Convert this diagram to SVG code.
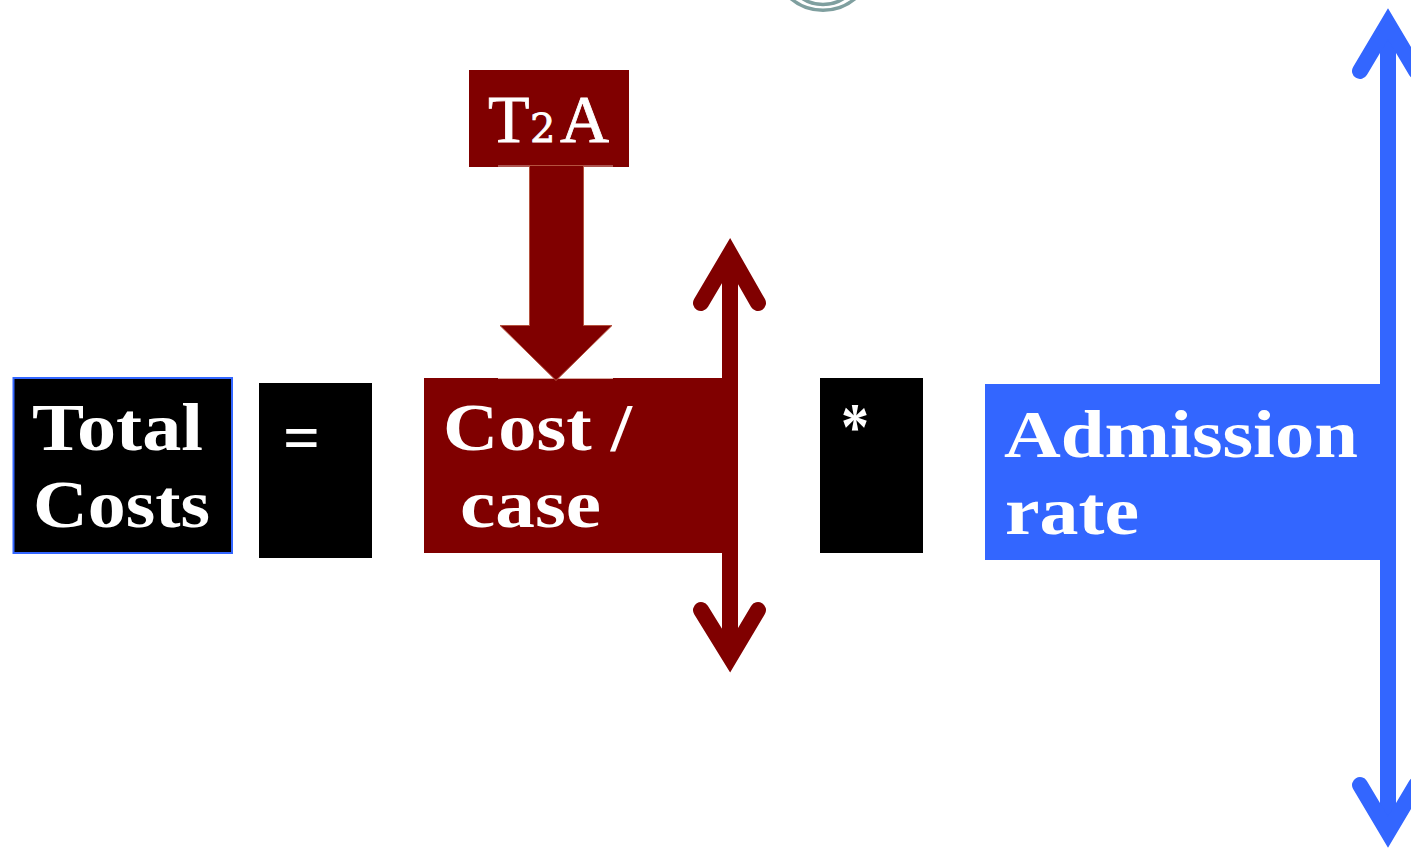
<svg xmlns="http://www.w3.org/2000/svg" width="1411" height="848" viewBox="0 0 1411 848">
<style>
.t{font-family:"Liberation Serif","DejaVu Serif",serif;font-weight:700;fill:#fff;font-size:68px}
.n{font-family:"Liberation Serif","DejaVu Serif",serif;fill:#fff;stroke:#fff;stroke-width:.8px;font-size:68px}
.red{fill:#800000}.blue{fill:#3366ff}.blk{fill:#000}
.ar{fill:none;stroke-width:16;stroke-linecap:round;stroke-linejoin:miter;stroke-miterlimit:4}
</style>
<rect width="1411" height="848" fill="#fff"/>
<g id="logo" fill="none" stroke="#7f9f9f" stroke-width="3.500"><circle cx="823" cy="-39.750" r="50"/><circle cx="823" cy="-33.500" r="38"/></g>
<g id="total-costs"><rect x="13.500" y="378" width="218.500" height="175" class="blk" stroke="#3366ff" stroke-width="2"/>
<text class="t" x="32" y="450" textLength="171" lengthAdjust="spacingAndGlyphs">Total</text>
<text class="t" x="33" y="527" textLength="177" lengthAdjust="spacingAndGlyphs">Costs</text></g>
<g id="equals"><rect x="259" y="383" width="113" height="175" class="blk"/>
<text class="t" x="283" y="460" textLength="37" lengthAdjust="spacingAndGlyphs">=</text></g>
<g id="cost-case"><rect x="424" y="378" width="300" height="175" class="red"/>
<text class="t" x="443" y="450" textLength="189" lengthAdjust="spacingAndGlyphs">Cost /</text>
<text class="t" x="460" y="527" textLength="141" lengthAdjust="spacingAndGlyphs">case</text></g>
<g id="multiply"><rect x="820" y="378" width="103" height="175" class="blk"/>
<text class="t" x="841" y="449" textLength="28" lengthAdjust="spacingAndGlyphs">*</text></g>
<g id="admission-rate"><rect x="985" y="384" width="397" height="176" class="blue"/>
<text class="t" x="1004" y="457" textLength="354" lengthAdjust="spacingAndGlyphs">Admission</text>
<text class="t" x="1005" y="534" textLength="134" lengthAdjust="spacingAndGlyphs">rate</text></g>
<g id="t2a"><rect x="469" y="70" width="160" height="97" class="red"/>
<text class="n" y="142"><tspan x="488">T</tspan><tspan x="530" style="font-family:'DejaVu Serif',serif;font-size:40px">2</tspan><tspan x="560">A</tspan></text></g>
<g id="connectors">
<path d="M498 166H613M498 378.500H613" stroke="#d9a9a0" stroke-width="1" fill="none"/>
<path d="M529.500 165.500H583.500V325.500H612L556 380.500L500 325.500H529.500Z" class="red" stroke="#b5523f" stroke-width="1"/>
<g stroke="#800000" class="ar"><path d="M730 262V650"/><path d="M701 303L730 254L758 303"/><path d="M701 610L730 657L758 610"/></g>
<g stroke="#3366ff" class="ar"><path d="M1388 30V826"/><path d="M1360 71L1388 24L1416 71"/><path d="M1360 785L1388 832L1416 785"/></g>
</g>
</svg>
